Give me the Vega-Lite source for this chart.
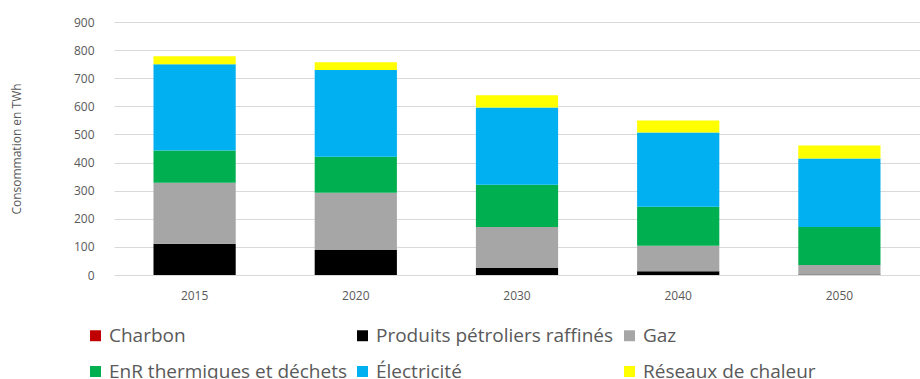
{
  "$schema": "https://vega.github.io/schema/vega-lite/v6.json",
  "width": 806,
  "height": 253,
  "autosize": {"type": "none"},
  "padding": {"left": 114, "top": 22, "right": 0, "bottom": 104},
  "background": "white",
  "config": {
    "view": {"stroke": null},
    "font": "Open Sans"
  },
  "data": {
    "values": [
      {"annee": "2015", "source": "Charbon", "twh": 0},
      {"annee": "2015", "source": "Produits pétroliers raffinés", "twh": 111},
      {"annee": "2015", "source": "Gaz", "twh": 217},
      {"annee": "2015", "source": "EnR thermiques et déchets", "twh": 115},
      {"annee": "2015", "source": "Électricité", "twh": 307},
      {"annee": "2015", "source": "Réseaux de chaleur", "twh": 28},
      {"annee": "2020", "source": "Charbon", "twh": 0},
      {"annee": "2020", "source": "Produits pétroliers raffinés", "twh": 89},
      {"annee": "2020", "source": "Gaz", "twh": 204},
      {"annee": "2020", "source": "EnR thermiques et déchets", "twh": 128},
      {"annee": "2020", "source": "Électricité", "twh": 308},
      {"annee": "2020", "source": "Réseaux de chaleur", "twh": 28},
      {"annee": "2030", "source": "Charbon", "twh": 0},
      {"annee": "2030", "source": "Produits pétroliers raffinés", "twh": 25},
      {"annee": "2030", "source": "Gaz", "twh": 146},
      {"annee": "2030", "source": "EnR thermiques et déchets", "twh": 150},
      {"annee": "2030", "source": "Électricité", "twh": 275},
      {"annee": "2030", "source": "Réseaux de chaleur", "twh": 43},
      {"annee": "2040", "source": "Charbon", "twh": 0},
      {"annee": "2040", "source": "Produits pétroliers raffinés", "twh": 13},
      {"annee": "2040", "source": "Gaz", "twh": 91},
      {"annee": "2040", "source": "EnR thermiques et déchets", "twh": 139},
      {"annee": "2040", "source": "Électricité", "twh": 264},
      {"annee": "2040", "source": "Réseaux de chaleur", "twh": 43},
      {"annee": "2050", "source": "Charbon", "twh": 0},
      {"annee": "2050", "source": "Produits pétroliers raffinés", "twh": 2},
      {"annee": "2050", "source": "Gaz", "twh": 34},
      {"annee": "2050", "source": "EnR thermiques et déchets", "twh": 135},
      {"annee": "2050", "source": "Électricité", "twh": 243},
      {"annee": "2050", "source": "Réseaux de chaleur", "twh": 47}
    ]
  },
  "transform": [
    {"calculate": "indexof(['Charbon','Produits pétroliers raffinés','Gaz','EnR thermiques et déchets','Électricité','Réseaux de chaleur'], datum.source)", "as": "rang"}
  ],
  "mark": {"type": "bar"},
  "encoding": {
    "x": {
      "field": "annee",
      "type": "nominal",
      "scale": {"paddingInner": 0.49, "paddingOuter": 0.245},
      "axis": {
        "title": null,
        "labelAngle": 0,
        "ticks": false,
        "domain": false,
        "labelColor": "#595959",
        "labelFontSize": 12,
        "labelPadding": 15
      }
    },
    "y": {
      "field": "twh",
      "type": "quantitative",
      "stack": "zero",
      "scale": {"domain": [0, 900]},
      "axis": {
        "title": "Consommation en TWh",
        "titleColor": "#595959",
        "titleFontSize": 12,
        "titleFontWeight": "normal",
        "titlePadding": 50,
        "values": [0, 100, 200, 300, 400, 500, 600, 700, 800, 900],
        "labelColor": "#595959",
        "labelFontSize": 12,
        "labelPadding": 20,
        "ticks": false,
        "domain": false,
        "gridColor": "#d9d9d9",
        "gridWidth": 1.2
      }
    },
    "color": {
      "field": "source",
      "type": "nominal",
      "sort": ["Charbon", "Produits pétroliers raffinés", "Gaz", "EnR thermiques et déchets", "Électricité", "Réseaux de chaleur"],
      "scale": {
        "domain": ["Charbon", "Produits pétroliers raffinés", "Gaz", "EnR thermiques et déchets", "Électricité", "Réseaux de chaleur"],
        "range": ["#c00000", "#000000", "#a6a6a6", "#00b050", "#00b0f0", "#ffff00"]
      },
      "legend": {
        "title": null,
        "orient": "none",
        "legendX": -28,
        "legendY": 304,
        "direction": "horizontal",
        "columns": 3,
        "symbolType": "square",
        "symbolSize": 120,
        "symbolStrokeWidth": 0,
        "labelFontSize": 19,
        "labelColor": "#595959",
        "labelLimit": 400,
        "rowPadding": 16,
        "columnPadding": 6,
        "labelOffset": 4
      }
    },
    "order": {"field": "rang", "type": "quantitative"}
  }
}
